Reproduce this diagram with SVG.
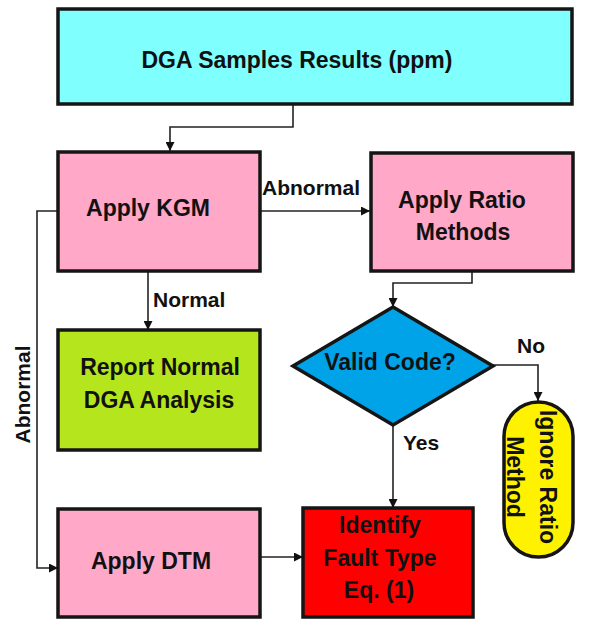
<svg xmlns="http://www.w3.org/2000/svg" width="595" height="626" viewBox="0 0 595 626">
<defs>
<marker id="arr" viewBox="0 0 10 10" refX="10" refY="5" markerWidth="9" markerHeight="9" markerUnits="userSpaceOnUse" orient="auto">
<path d="M0,0 L10,5 L0,10 z" fill="#111"/>
</marker>
</defs>
<style>
.box{stroke:#151515;stroke-width:3.5}
.t{font-family:"Liberation Sans",Arial,sans-serif;font-weight:bold;font-size:23px;fill:#111;text-anchor:middle}
.lbl{font-family:"Liberation Sans",Arial,sans-serif;font-weight:bold;font-size:21px;fill:#111}
.c{fill:none;stroke:#222;stroke-width:1.6}
</style>
<rect width="595" height="626" fill="#fff"/>
<g id="connectors">
<polyline class="c" points="293,104 293,127 170,127 170,151" marker-end="url(#arr)"/>
<line class="c" x1="260" y1="211" x2="370" y2="211" marker-end="url(#arr)"/>
<line class="c" x1="148" y1="271" x2="148" y2="330" marker-end="url(#arr)"/>
<polyline class="c" points="58,211 37,211 37,568 58,568" marker-end="url(#arr)"/>
<polyline class="c" points="472,271 472,283 393,283 393,307" marker-end="url(#arr)"/>
<polyline class="c" points="493,365 538,365 538,401" marker-end="url(#arr)"/>
<line class="c" x1="393" y1="425" x2="393" y2="508" marker-end="url(#arr)"/>
<line class="c" x1="260" y1="557" x2="303" y2="557" marker-end="url(#arr)"/>
<text class="lbl" x="262" y="195">Abnormal</text>
<text class="lbl" x="153" y="307">Normal</text>
<text class="lbl" transform="translate(30,394.5) rotate(-90)" text-anchor="middle">Abnormal</text>
<text class="lbl" x="517" y="353">No</text>
<text class="lbl" x="403" y="450">Yes</text>
</g>
<g id="dga">
<rect class="box" x="58" y="9" width="514" height="95" fill="#80FFFF"/>
<text class="t" x="297" y="68">DGA Samples Results (ppm)</text>
</g>
<g id="kgm">
<rect class="box" x="58" y="152" width="202" height="119" fill="#FFA8C8"/>
<text class="t" x="148" y="216">Apply KGM</text>
</g>
<g id="ratio">
<rect class="box" x="371" y="153" width="202" height="118" fill="#FFA8C8"/>
<text class="t" x="462" y="208">Apply Ratio</text>
<text class="t" x="463" y="240">Methods</text>
</g>
<g id="report">
<rect class="box" x="58" y="330" width="202" height="120" fill="#B5E61D"/>
<text class="t" x="160" y="375">Report Normal</text>
<text class="t" x="159" y="408">DGA Analysis</text>
</g>
<g id="valid">
<polygon class="box" points="393,307 493,366 393,425 293,366" fill="#00A2E8"/>
<text class="t" x="390" y="370">Valid Code?</text>
</g>
<g id="ignore">
<rect class="box" x="504" y="402" width="69" height="155" rx="34.5" ry="34.5" fill="#FFF200"/>
<text class="t" transform="translate(531,477) rotate(90)"><tspan x="0" y="-9">Ignore Ratio</tspan><tspan x="0" y="24">Method</tspan></text>
</g>
<g id="dtm">
<rect class="box" x="58" y="509" width="202" height="108" fill="#FFA8C8"/>
<text class="t" x="151" y="569">Apply DTM</text>
</g>
<g id="identify">
<rect class="box" x="303" y="508" width="170" height="109" fill="#FF0000"/>
<text class="t" x="380" y="533">Identify</text>
<text class="t" x="380" y="566">Fault Type</text>
<text class="t" x="379" y="598">Eq. (1)</text>
</g>
</svg>
